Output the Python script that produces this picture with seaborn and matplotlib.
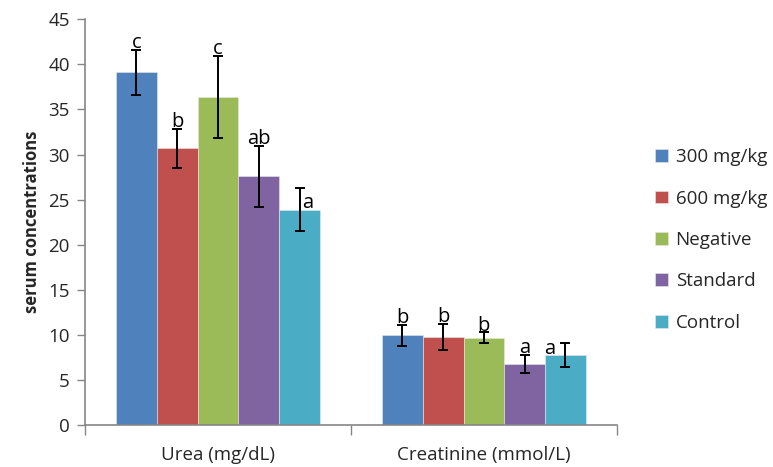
import matplotlib
matplotlib.use("Agg")
import matplotlib.pyplot as plt
import seaborn as sns
import pandas as pd
import numpy as np
from matplotlib.ticker import FixedLocator

# ---- data ----
categories = ["Urea (mg/dL)", "Creatinine (mmol/L)"]
groups = ["300 mg/kg", "600 mg/kg", "Negative", "Standard", "Control"]
urea_means = [39.1, 30.7, 36.4, 27.6, 23.9]
urea_errs = [2.45, 2.15, 4.55, 3.4, 2.35]
creat_means = [10.0, 9.8, 9.7, 6.8, 7.8]
creat_errs = [1.15, 1.45, 0.6, 0.98, 1.35]
urea_letters = ["c", "b", "c", "ab", "a"]
creat_letters = ["b", "b", "b", "a", "a"]
colors = ["#4F81BD", "#C0504D", "#9BBB59", "#8064A2", "#4BACC6"]

df = pd.DataFrame({
    "category": [categories[0]] * 5 + [categories[1]] * 5,
    "group": groups + groups,
    "value": urea_means + creat_means,
    "err": urea_errs + creat_errs,
    "letter": urea_letters + creat_letters,
})

sns.set_theme(style="white")
plt.rcParams["font.family"] = ["Open Sans", "DejaVu Sans"]

fig = plt.figure(figsize=(7.73, 4.67), dpi=100)
ax = fig.add_axes([0.110, 0.089, 0.688, 0.870])

sns.barplot(data=df, x="category", y="value", hue="group", order=categories,
            hue_order=groups, palette=colors, width=0.767, errorbar=None,
            edgecolor="#e8e8e8", linewidth=0.4, saturation=1, ax=ax)

bar_containers = list(ax.containers)

# error bars and letters from the bar geometry
for gi, cont in enumerate(bar_containers):
    g = groups[gi]
    for ci, patch in enumerate(cont.patches):
        row = df[(df.group == g) & (df.category == categories[ci])].iloc[0]
        xc = patch.get_x() + patch.get_width() / 2
        h = patch.get_height()
        ax.errorbar(xc, h, yerr=row.err, fmt="none", ecolor="black",
                    elinewidth=1.4, capsize=3.8, capthick=1.4, zorder=5)
        dx = 0.0
        dy = 0.0
        if g == "Control" and ci == 0:
            dx, dy = 0.03, -2.4
        if g == "Control" and ci == 1:
            dx, dy = -0.06, -1.4
        ax.text(xc + dx, h + row.err - 0.35 + dy, row.letter, ha="center",
                va="bottom", fontsize=14.5, color="black", zorder=6)

ax.set_xlim(-0.5, 1.5)
ax.set_ylim(0, 45)
ax.set_yticks(np.arange(0, 46, 5))
ax.set_ylabel("serum concentrations", fontsize=12, fontweight="bold", labelpad=5)
ax.set_xlabel("")

for s in ["top", "right"]:
    ax.spines[s].set_visible(False)
for s in ["left", "bottom"]:
    ax.spines[s].set_color("#868686")
    ax.spines[s].set_linewidth(1.2)

ax.tick_params(axis="y", which="major", direction="out", length=6, width=1,
               color="#868686", labelsize=13.5, pad=5, left=True)
ax.tick_params(axis="x", which="major", length=0, labelsize=13.5, pad=15)
ax.xaxis.set_minor_locator(FixedLocator([-0.5, 0.5, 1.5]))
ax.tick_params(axis="x", which="minor", direction="out", length=7, width=1,
               color="#868686", bottom=True)

handles, labels = ax.get_legend_handles_labels()
ax.legend(handles, labels, loc="center left", bbox_to_anchor=(0.826, 0.486),
          bbox_transform=fig.transFigure, frameon=False, fontsize=13.5,
          handlelength=0.68, handleheight=0.68, handletextpad=0.4,
          labelspacing=1.25)

fig.savefig("out.png", dpi=100)
